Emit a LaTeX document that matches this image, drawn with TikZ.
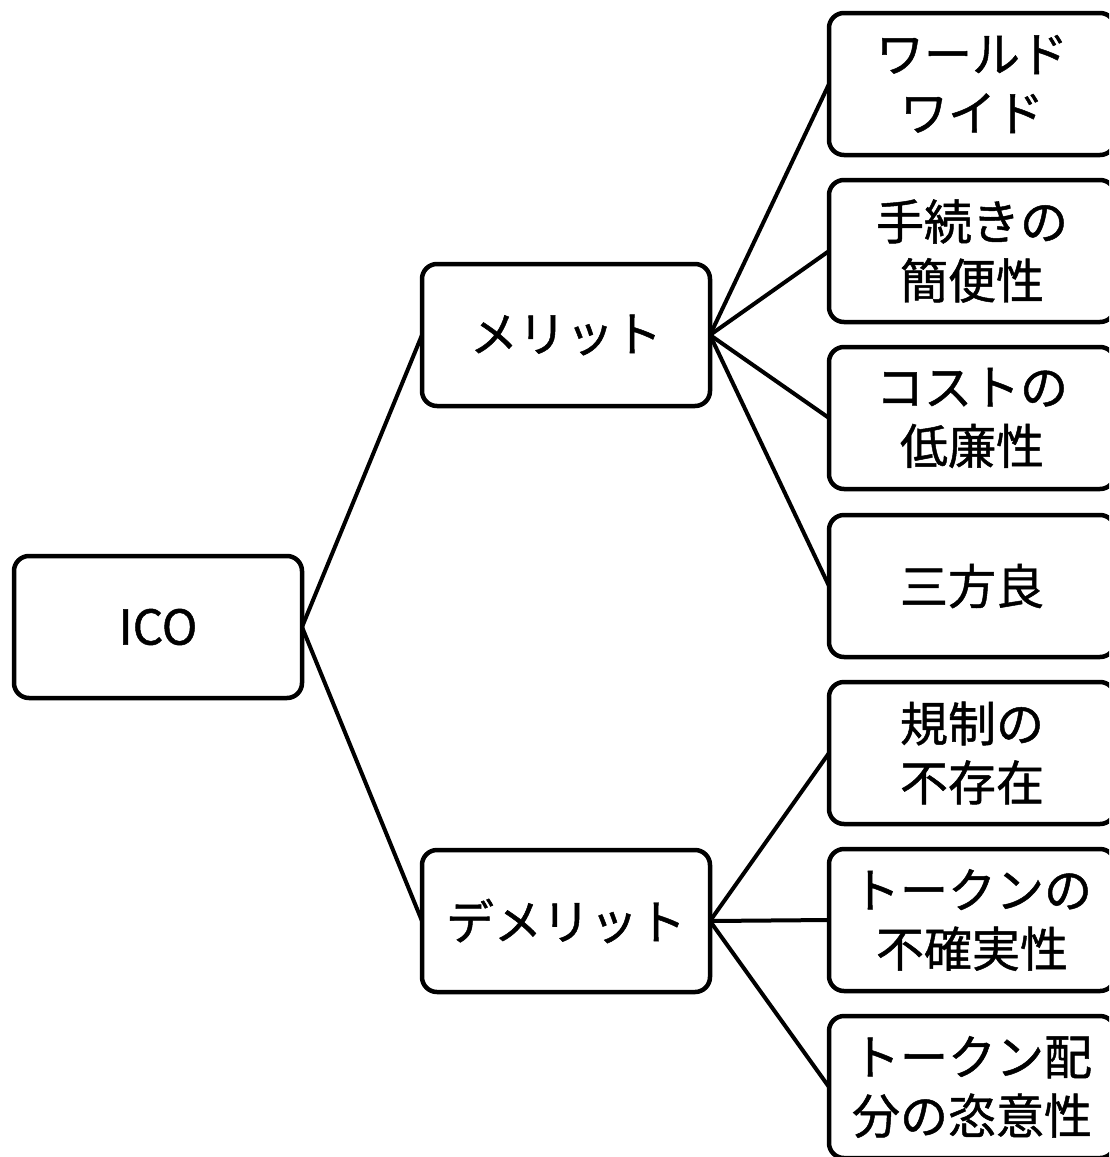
\documentclass[tikz,border=0pt]{standalone}
\usepackage{fontspec}
\newfontfamily\jp[FakeBold=1]{Noto Sans CJK JP}
\begin{document}
\begin{tikzpicture}[x=1pt,y=-1pt,
  box/.style={draw=black, line width=4.5pt, rounded corners=15pt, inner sep=0pt, outer sep=0pt,
    align=center, font=\jp\fontsize{48}{59}\selectfont, text=black},
  mid/.style={box, minimum width=288pt, minimum height=142pt},
  leaf/.style={box, minimum width=286pt, minimum height=142pt},
  link/.style={line width=4pt, black}]
\useasboundingbox (0,0) rectangle (1109,1157);
\clip (0,0) rectangle (1109,1157);
\node[mid] (ico) at (158,627) {ICO};
\node[mid] (merit) at (566,335) {メリット};
\node[mid] (demerit) at (566,921) {デメリット};
\node[leaf] (l1) at (972,84) {ワールド\\ワイド};
\node[leaf] (l2) at (972,251) {手続きの\\簡便性};
\node[leaf] (l3) at (972,418) {コストの\\低廉性};
\node[leaf] (l4) at (972,586) {三方良};
\node[leaf] (l5) at (972,753) {規制の\\不存在};
\node[leaf] (l6) at (972,920) {トークンの\\不確実性};
\node[leaf] (l7) at (972,1087) {トークン配\\分の恣意性};
\draw[link] (ico.east) -- (merit.west);
\draw[link] (ico.east) -- (demerit.west);
\foreach \n in {l1,l2,l3,l4} \draw[link] (merit.east) -- (\n.west);
\foreach \n in {l5,l6,l7} \draw[link] (demerit.east) -- (\n.west);
\end{tikzpicture}
\end{document}
